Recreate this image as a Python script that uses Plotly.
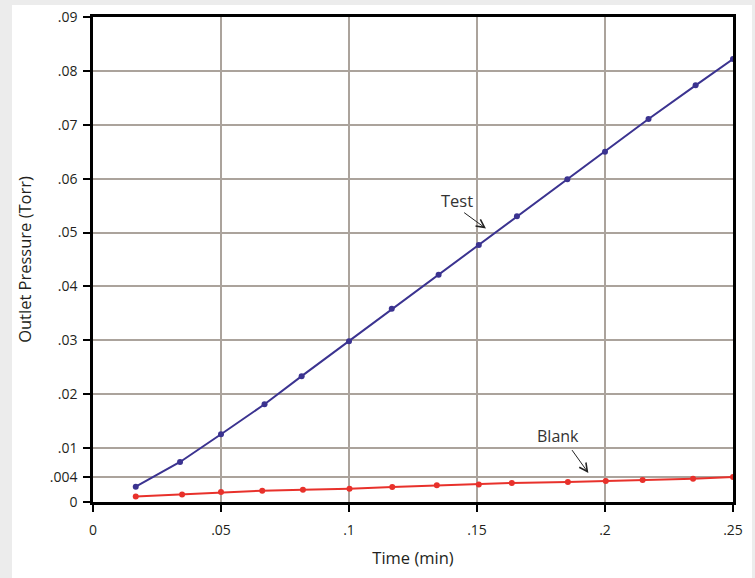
import plotly.graph_objects as go

# Data
test_time = [0.0167, 0.034, 0.05, 0.067, 0.0815, 0.1, 0.1167, 0.135, 0.1507,
             0.1656, 0.1853, 0.2, 0.217, 0.2354, 0.25]
test_pressure = [0.00284, 0.00743, 0.01257, 0.01814, 0.02335, 0.02985, 0.03587,
                 0.04219, 0.0477, 0.05303, 0.0599, 0.06498, 0.07106, 0.07732, 0.08221]

blank_time = [0.0167, 0.0348, 0.05, 0.0661, 0.082, 0.1002, 0.1169, 0.1343, 0.1507,
              0.1636, 0.1855, 0.2003, 0.2147, 0.2344, 0.25]
blank_pressure = [0.00104, 0.00141, 0.00186, 0.0021, 0.00229, 0.00247, 0.00279,
                  0.00309, 0.00327, 0.00353, 0.00372, 0.0039, 0.00409, 0.00433, 0.00465]

x_tickvals = [0, 0.05, 0.1, 0.15, 0.2, 0.25]
x_ticktext = ["0", ".05", ".1", ".15", ".2", ".25"]
y_tickvals = [0, 0.0047, 0.01, 0.02, 0.03, 0.04, 0.05, 0.06, 0.07, 0.08, 0.09]
y_ticktext = ["0", ".004", ".01", ".02", ".03", ".04", ".05", ".06", ".07", ".08", ".09"]

FONT = "Open Sans"
TXT = "#231f20"
GRID = "#aba39c"

fig = go.Figure()
fig.add_trace(go.Scatter(x=test_time, y=test_pressure, mode="lines+markers",
                         name="Test", line=dict(color="#3b3390", width=2),
                         marker=dict(color="#3b3390", size=6)))
fig.add_trace(go.Scatter(x=blank_time, y=blank_pressure, mode="lines+markers",
                         name="Blank", line=dict(color="#e8312b", width=2),
                         marker=dict(color="#e8312b", size=6)))

axis_common = dict(showline=True, linecolor="black", linewidth=2.5, mirror=True,
                   showgrid=True, gridcolor=GRID, gridwidth=2, zeroline=False,
                   ticks="outside", ticklen=7, tickwidth=2, tickcolor="black",
                   automargin=False,
                   tickfont=dict(family=FONT, size=14, color=TXT))

fig.update_xaxes(range=[0, 0.25], tickvals=x_tickvals, ticktext=x_ticktext,
                 title=dict(text="Time (min)", font=dict(family=FONT, size=16.5, color=TXT), standoff=15),
                 ticklabelstandoff=6, **axis_common)
fig.update_yaxes(range=[0, 0.09], tickvals=y_tickvals, ticktext=y_ticktext,
                 title=dict(text="Outlet Pressure (Torr)", font=dict(family=FONT, size=16.5, color=TXT), standoff=14),
                 ticklabelstandoff=3, **axis_common)

# annotations: labels with arrows
fig.add_annotation(x=0.1423, y=0.05587, text="Test", showarrow=False,
                   font=dict(family=FONT, size=16.5, color="#333333"))
fig.add_annotation(x=0.1535, y=0.05074, ax=0.1444, ay=0.0539, axref="x", ayref="y",
                   text="", showarrow=True, arrowhead=5, arrowsize=1.6, arrowwidth=1,
                   arrowcolor="#222222")
fig.add_annotation(x=0.1815, y=0.01219, text="Blank", showarrow=False,
                   font=dict(family=FONT, size=16, color="#333333"))
fig.add_annotation(x=0.1935, y=0.00539, ax=0.1867, ay=0.00991, axref="x", ayref="y",
                   text="", showarrow=True, arrowhead=5, arrowsize=1.6, arrowwidth=1,
                   arrowcolor="#222222")

# white panel over a light grey backdrop
L, R, T, B = 93, 22, 17, 76
W, H = 755, 578
pw, ph = W - L - R, H - T - B
fig.add_shape(type="rect", xref="paper", yref="paper",
              x0=(12 - L) / pw, x1=(752 - L) / pw,
              y0=-(B + 2) / ph, y1=1 + (T - 5) / ph,
              fillcolor="white", line=dict(width=0), layer="below")

fig.update_layout(width=W, height=H, margin=dict(l=L, r=R, t=T, b=B),
                  paper_bgcolor="#ececec", plot_bgcolor="white",
                  showlegend=False, font=dict(family=FONT, color=TXT))

fig.write_html("out.html", config={"displayModeBar": False},
               post_script="document.body.style.margin='0px';document.body.style.overflow='hidden';")
